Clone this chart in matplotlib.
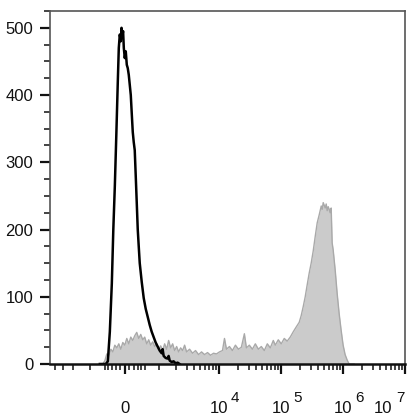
import matplotlib
matplotlib.use("Agg")
import matplotlib.pyplot as plt
from matplotlib.transforms import offset_copy, ScaledTranslation

plt.rcParams['font.family'] = ['Liberation Sans', 'DejaVu Sans']

# control (unstained) histogram, black outline
ctrl_x = [-645, -462, -407, -354, -303, -266, -229, -194, -159, -136, -113, -90,
          -74, -56, -38, -22, 0, 22, 45, 67, 90, 113, 136, 159, 182, 205, 229,
          253, 278, 303, 328, 354, 407, 462, 520, 581, 645, 711, 782, 857, 937,
          1023, 1114, 1162, 1211, 1315, 1426, 1484, 1548, 1671, 1808, 1956, 2113,
          2279]
ctrl_y = [0, 0, 4, 48, 120, 200, 265, 340, 420, 470, 490, 480,
          500, 488, 495, 470, 455, 465, 445, 440, 430, 415, 400, 372, 345, 330, 318,
          280, 240, 200, 175, 150, 122, 98, 82, 70, 58, 48, 40, 32, 26,
          20, 16, 22, 12, 9, 8, 12, 5, 3, 4, 1, 2,
          0]

# stained sample histogram, grey filled
sample_x = [-645, -550, -490, -435, -380, -328, -278, -229, -182, -136, -90, -45,
            0, 45, 90, 136, 182, 229, 278, 328, 380, 435, 490, 550, 612, 677,
            746, 822, 897, 980, 1068, 1162, 1262, 1370, 1484, 1607, 1739, 1881,
            2033, 2196, 2370, 2558, 2760, 2977, 3333, 3730, 4170, 4670, 5220,
            5840, 6530, 7300, 8160, 9110, 10190, 11390, 12270, 13210, 14760,
            16480, 18420, 20600, 23000, 25700, 27700, 30900, 34600, 38600,
            43200, 48200, 53900, 60200, 67300, 75200, 81000, 90500, 101000,
            113000, 126000, 141000, 158000, 176000, 197000, 212000, 228000,
            246000, 265000, 285000, 307000, 331000, 357000, 384000, 414000,
            446000, 462000, 480000, 498000, 517000, 536000, 556000, 577000,
            599000, 621000, 645000, 669000, 694000, 748000, 805000, 867000,
            934000, 1005000, 1082000, 1166000, 1255000, 1510000]
sample_y = [0, 0, 5, 15, 12, 22, 18, 28, 24, 30, 22, 32,
            28, 38, 30, 40, 35, 42, 47, 38, 44, 36, 40, 30, 36, 28,
            33, 26, 30, 22, 27, 20, 30, 22, 35, 24, 30, 20,
            26, 18, 24, 20, 28, 18, 22, 16, 20, 14, 18,
            14, 17, 13, 16, 15, 18, 20, 38, 22, 26,
            20, 28, 22, 25, 45, 24, 28, 22, 30,
            22, 26, 20, 30, 24, 35, 28, 36, 30,
            38, 34, 40, 48, 55, 62, 72, 85,
            100, 118, 135, 150, 168, 190, 210, 222,
            235, 230, 240, 236, 232, 238, 228, 234,
            230, 225, 232, 180, 170, 140, 105, 75,
            50, 28, 14, 6, 0, 0]

x_major = [0, 1e4, 1e5, 1e6, 1e7]
x_major_labels = ['0', '10', '10', '10', '10']
x_exponents = ['', '4', '5', '6', '7']
x_minor = [-4000, -3000, -2000, -1000, -500, -400, -300, -200, -100,
           100, 200, 300, 400, 500] + \
          [m * 10 ** e for e in (3, 4, 5, 6) for m in range(1, 10) if not (e > 3 and m == 1)]
y_major = [0, 100, 200, 300, 400, 500]
y_minor = list(range(0, 526, 25))

fig = plt.figure(figsize=(4.17, 4.19), dpi=100)
ax = fig.add_axes([50 / 417, 55 / 419, 355 / 417, 353 / 419])

ax.fill_between(sample_x, sample_y, 0, color='#cbcbcb', lw=0)
ax.plot(sample_x, sample_y, color='#a9a9a9', lw=1.0)
ax.plot(ctrl_x, ctrl_y, color='black', lw=1.8)

ax.set_xscale('asinh', linear_width=606)
ax.set_xlim(-4850, 1e7)
ax.set_ylim(0, 516)

ax.set_xticks(x_major, x_major_labels)
ax.set_xticks(x_minor, minor=True)
ax.set_yticks(y_major)
ax.set_yticks(y_minor, minor=True)

ax.tick_params(axis='both', which='major', direction='out', length=7, width=1.6,
               color='#111111', labelsize=12, labelcolor='#111111')
ax.tick_params(axis='both', which='minor', direction='out', length=4.5, width=1.1,
               color='#111111')
ax.tick_params(axis='x', which='major', pad=28)
ax.tick_params(axis='y', which='major', pad=5)
for lab in ax.get_xticklabels():
    lab.set_verticalalignment('baseline')
# last label is pulled left so it stays inside the figure
last = ax.get_xticklabels()[-1]
last.set_horizontalalignment('right')
last.set_transform(last.get_transform() + ScaledTranslation(-13 / 100, 0, fig.dpi_scale_trans))

# exponents drawn full size, raised above the "10"
for val, ex in zip(x_major, x_exponents):
    if not ex:
        continue
    dx = -9 if val == x_major[-1] else 12
    tr = offset_copy(ax.get_xaxis_transform(), fig=fig, x=dx, y=-38, units='dots')
    ax.text(val, 0, ex, transform=tr, ha='left', va='baseline', fontsize=11,
            color='#111111', clip_on=False)

for side in ['top', 'right', 'left']:
    ax.spines[side].set_color('#555555')
    ax.spines[side].set_linewidth(1.2)
ax.spines['bottom'].set_color('#111111')
ax.spines['bottom'].set_linewidth(1.8)

fig.savefig('out.png', dpi=100)
